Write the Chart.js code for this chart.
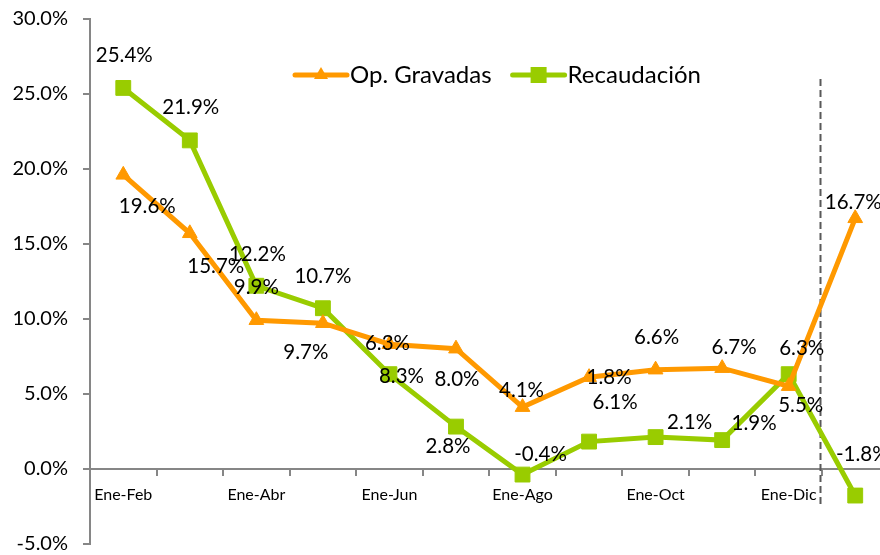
<!DOCTYPE html>
<html>
<head>
<meta charset="utf-8">
<script src="https://cdn.jsdelivr.net/npm/chart.js@4"></script>
<style>
  html, body { margin: 0; padding: 0; background: #fff; overflow: hidden; width: 880px; height: 555px; }
  #wrap { position: absolute; left: 0; top: 0; width: 900px; height: 555px; }
</style>
</head>
<body>
<div id="wrap"><canvas id="c" width="900" height="555"></canvas></div>
<script>
// ---- data ----
const categories = ['Ene-Feb','Ene-Mar','Ene-Abr','Ene-May','Ene-Jun','Ene-Jul','Ene-Ago','Ene-Sep','Ene-Oct','Ene-Nov','Ene-Dic','Ene'];
const opGravadas = [19.6, 15.7, 9.9, 9.7, 8.3, 8.0, 4.1, 6.1, 6.6, 6.7, 5.5, 16.7];
const recaudacion = [25.4, 21.9, 12.2, 10.7, 6.3, 2.8, -0.4, 1.8, 2.1, 1.9, 6.3, -1.8];
const seriesNames = ['Op. Gravadas', 'Recaudación'];
const yTicks = [-5, 0, 5, 10, 15, 20, 25, 30];

// ---- layout (label offsets in px, relative to each point) ----
const labelOffsetsOp = [[24,32],[26,33],[0,-33],[-17,29],[12,32],[1,31],[-1,-17],[26,25],[1,-32],[12,-21],[12,19],[-2,-16]];
const labelOffsetsRec = [[1,-33],[1,-33],[1,-31],[0,-32],[-2,-31],[-8,20],[18,-20],[20,-64],[34,-15],[32,-17],[13,-26],[7,-41]];

const FONT = 'Lato, "Open Sans", sans-serif';
const ORANGE = '#FF9900';
const GREEN = '#99CC00';
const AXIS = '#868686';

const dataLabels = {
  id: 'dataLabels',
  afterDatasetsDraw(chart) {
    const ctx = chart.ctx;
    const offs = [labelOffsetsOp, labelOffsetsRec];
    ctx.save();
    ctx.font = '20.5px ' + FONT;
    ctx.fillStyle = '#000';
    ctx.textAlign = 'center';
    ctx.textBaseline = 'middle';
    chart.data.datasets.forEach((ds, di) => {
      const meta = chart.getDatasetMeta(di);
      meta.data.forEach((pt, i) => {
        const o = offs[di][i];
        ctx.fillText(ds.data[i].toFixed(1) + '%', pt.x + o[0], pt.y + o[1]);
      });
    });
    ctx.restore();
  }
};

const extras = {
  id: 'extras',
  beforeDatasetsDraw(chart) {
    const ctx = chart.ctx;
    const x = chart.scales.x, y = chart.scales.y;
    const n = categories.length;
    const px = Math.round((x.getPixelForValue(n - 2) + x.getPixelForValue(n - 1)) / 2) - 1.5;
    ctx.save();
    ctx.strokeStyle = '#595959';
    ctx.lineWidth = 2;
    ctx.setLineDash([7, 4]);
    ctx.beginPath();
    ctx.moveTo(px, y.getPixelForValue(26.0));
    ctx.lineTo(px, y.getPixelForValue(-2.4));
    ctx.stroke();
    ctx.restore();
  },
  afterDraw(chart) {
    const ctx = chart.ctx;
    ctx.save();
    ctx.font = '24px ' + FONT;
    ctx.textBaseline = 'middle';
    ctx.textAlign = 'left';
    let xx = 293;
    const yy = 75;
    chart.data.datasets.forEach((ds) => {
      ctx.strokeStyle = ds.borderColor;
      ctx.lineWidth = 5;
      ctx.lineCap = 'round';
      ctx.beginPath();
      ctx.moveTo(xx + 2, yy);
      ctx.lineTo(xx + 54, yy);
      ctx.stroke();
      ctx.fillStyle = ds.borderColor;
      if (ds.pointStyle === 'triangle') {
        ctx.beginPath();
        ctx.moveTo(xx + 28, yy - 8);
        ctx.lineTo(xx + 35, yy + 4);
        ctx.lineTo(xx + 21, yy + 4);
        ctx.closePath();
        ctx.fill();
      } else {
        ctx.fillRect(xx + 20, yy - 8, 16, 16);
      }
      ctx.fillStyle = '#000';
      ctx.fillText(ds.label, xx + 57, yy);
      xx += 57 + ctx.measureText(ds.label).width + 19;
    });
    ctx.restore();
  }
};

new Chart(document.getElementById('c'), {
  type: 'line',
  data: {
    labels: categories,
    datasets: [
      {
        label: seriesNames[0], data: opGravadas,
        borderColor: ORANGE, backgroundColor: ORANGE, borderWidth: 5,
        pointStyle: 'triangle', pointRadius: 8.5, pointBorderWidth: 1,
        pointBackgroundColor: ORANGE, pointBorderColor: ORANGE, tension: 0
      },
      {
        label: seriesNames[1], data: recaudacion,
        borderColor: GREEN, backgroundColor: GREEN, borderWidth: 5,
        pointStyle: 'rect', pointRadius: 10.5, pointBorderWidth: 1,
        pointBackgroundColor: GREEN, pointBorderColor: GREEN, tension: 0
      }
    ]
  },
  options: {
    responsive: false,
    animation: false,
    devicePixelRatio: 1,
    layout: { padding: { left: 0, top: 19, right: 4, bottom: 11 } },
    plugins: { legend: { display: false }, tooltip: { enabled: false }, title: { display: false } },
    scales: {
      x: {
        type: 'category',
        position: { y: 0 },
        offset: true,
        afterFit: (s) => { s.paddingLeft = 0; s.paddingRight = 0; s.paddingTop = 0; s.paddingBottom = 0; },
        grid: { offset: true, drawOnChartArea: false, drawTicks: true, tickLength: 6, color: AXIS, lineWidth: 2 },
        border: { display: true, color: AXIS, width: 2 },
        ticks: {
          autoSkip: false, maxRotation: 0, padding: 11, color: '#000',
          font: { family: FONT, size: 16 },
          callback: function (v, i) { return i % 2 === 0 ? this.getLabelForValue(v) : ''; }
        }
      },
      y: {
        min: yTicks[0], max: yTicks[yTicks.length - 1],
        afterFit: (s) => { s.width = 90; s.paddingTop = 0; s.paddingBottom = 0; s.paddingLeft = 0; s.paddingRight = 0; },
        afterBuildTicks: (s) => { s.ticks = yTicks.map(v => ({ value: v })); },
        grid: { drawOnChartArea: false, drawTicks: true, tickLength: 7, color: AXIS, lineWidth: 2 },
        border: { display: true, color: AXIS, width: 2 },
        ticks: {
          padding: 15, color: '#000',
          font: { family: FONT, size: 20 },
          callback: (v) => v.toFixed(1) + '%'
        }
      }
    }
  },
  plugins: [extras, dataLabels]
});
</script>
</body>
</html>
